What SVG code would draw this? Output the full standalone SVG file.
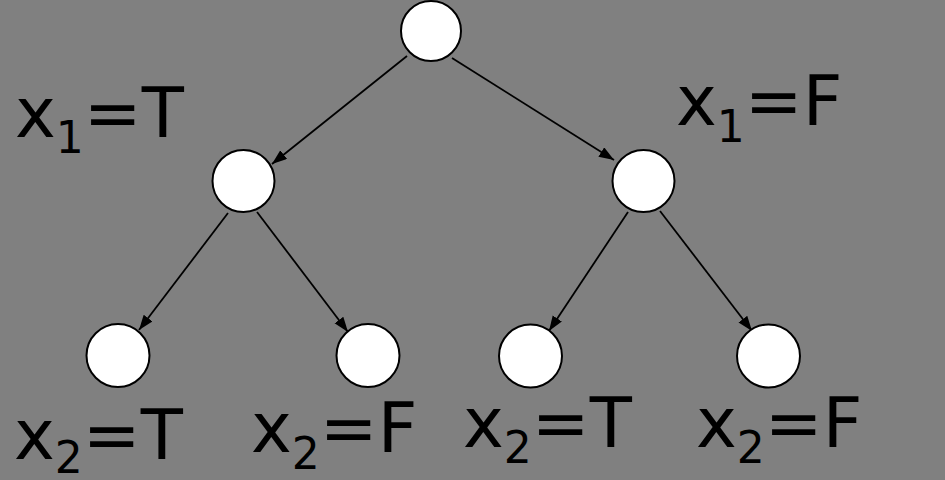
<svg xmlns="http://www.w3.org/2000/svg" width="945" height="480" viewBox="0 0 945 480">
<defs>
<style>
.node{fill:#fff;stroke:#000;stroke-width:2}
.edge{stroke:#000;stroke-width:1.8;fill:none;marker-end:url(#ah)}
.lbl{font-family:"DejaVu Sans",Verdana,sans-serif;font-size:69px;fill:#000}
.sub{font-size:44px}
</style>
<marker id="ah" markerUnits="userSpaceOnUse" markerWidth="16" markerHeight="12" refX="15" refY="5.5" orient="auto">
<path d="M0,0 L15,5.5 L0,11 z" fill="#000"/>
</marker>
</defs>
<rect width="945" height="480" fill="#808080"/>
<g id="connectors">
<line class="edge" x1="407" y1="56" x2="272" y2="164"/>
<line class="edge" x1="452" y1="58" x2="614" y2="160"/>
<line class="edge" x1="228" y1="213" x2="139" y2="330"/>
<line class="edge" x1="257" y1="212" x2="348" y2="332"/>
<line class="edge" x1="628" y1="212" x2="549" y2="331"/>
<line class="edge" x1="660" y1="211" x2="752" y2="331"/>
</g>
<g id="root"><circle class="node" cx="431" cy="31" r="30"/></g>
<g id="n_x1T"><circle class="node" cx="243.5" cy="181" r="31"/></g>
<g id="n_x1F"><circle class="node" cx="643.5" cy="181" r="31"/></g>
<g id="leaf1"><circle class="node" cx="118" cy="355.5" r="31.5"/></g>
<g id="leaf2"><circle class="node" cx="368" cy="355.5" r="31.5"/></g>
<g id="leaf3"><circle class="node" cx="530.5" cy="356" r="31.5"/></g>
<g id="leaf4"><circle class="node" cx="768.5" cy="356" r="31.5"/></g>
<g id="labels">
<text class="lbl" x="15" y="137">x<tspan class="sub" dy="16">1</tspan><tspan dy="-16">=T</tspan></text>
<text class="lbl" x="676" y="125">x<tspan class="sub" dy="17">1</tspan><tspan dy="-17">=F</tspan></text>
<text class="lbl" x="14" y="459">x<tspan class="sub" dy="14">2</tspan><tspan dy="-14">=T</tspan></text>
<text class="lbl" x="251" y="452">x<tspan class="sub" dy="17">2</tspan><tspan dy="-17">=F</tspan></text>
<text class="lbl" x="463" y="447">x<tspan class="sub" dy="16">2</tspan><tspan dy="-16">=T</tspan></text>
<text class="lbl" x="696" y="447">x<tspan class="sub" dy="16">2</tspan><tspan dy="-16">=F</tspan></text>
</g>
</svg>
